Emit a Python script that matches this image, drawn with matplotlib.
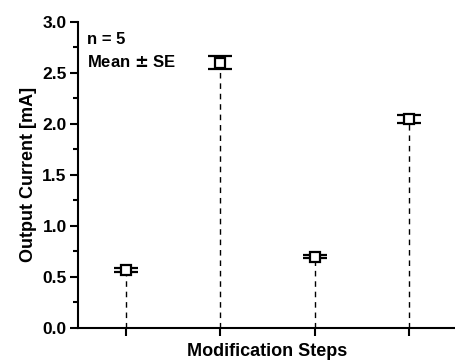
import matplotlib
matplotlib.use("Agg")
import matplotlib.pyplot as plt
from matplotlib.ticker import MultipleLocator

steps = [1, 2, 3, 4]
means = [0.57, 2.60, 0.70, 2.05]
errors = [0.02, 0.065, 0.015, 0.04]

plt.rcParams['font.family'] = ['Liberation Sans', 'DejaVu Sans']
plt.rcParams['font.weight'] = 'bold'

fig = plt.figure(figsize=(4.55, 3.62), dpi=100)
ax = fig.add_axes([0.1725, 0.094, 0.83, 0.846])

ax.vlines(steps, 0, means, colors='black', linestyles=(0, (4, 3.5)), linewidth=1.0, zorder=1)
ax.errorbar(steps, means, yerr=errors, fmt='s', mfc='white', mec='black', mew=1.6,
            ms=6.5, ecolor='black', elinewidth=1.5, capsize=8.5, capthick=2.2, zorder=3)

ax.set_xlim(0.5, 4.5)
ax.set_ylim(0, 3.0)
ax.set_xticks(steps)
ax.set_xticklabels([])
ax.yaxis.set_major_locator(MultipleLocator(0.5))
ax.yaxis.set_minor_locator(MultipleLocator(0.25))
ax.tick_params(axis='both', which='major', direction='out', length=6, width=1.5,
               labelsize=12.5, pad=2.5)
ax.tick_params(axis='y', which='minor', direction='out', length=3.5, width=1.5)
ax.set_yticks([0, 0.5, 1.0, 1.5, 2.0, 2.5, 3.0])
ax.set_yticklabels(['0.0', '0.5', '1.0', '1.5', '2.0', '2.5', '3.0'], fontweight='bold')
for s in ['top', 'right']:
    ax.spines[s].set_visible(False)
for s in ['left', 'bottom']:
    ax.spines[s].set_linewidth(1.5)

ax.set_ylabel('Output Current [mA]', fontsize=13, fontweight='bold', labelpad=4)
ax.set_xlabel('Modification Steps', fontsize=13, fontweight='bold', labelpad=2.5)

ax.text(0.022, 0.965, 'n = 5', transform=ax.transAxes, fontsize=12, fontweight='bold', va='top')
ax.text(0.022, 0.895, 'Mean $\\pm$ SE', transform=ax.transAxes, fontsize=12, fontweight='bold', va='top')

fig.savefig('out.png', dpi=100)
